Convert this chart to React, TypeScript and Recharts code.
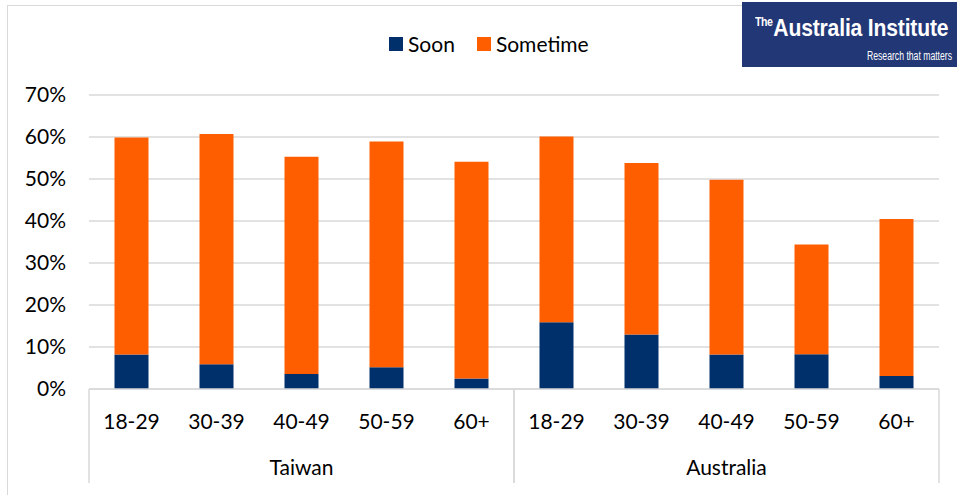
import React from 'react';
import { BarChart, Bar, XAxis, YAxis, CartesianGrid } from 'recharts';

const FONT = 'Lato, "Open Sans", sans-serif';
const NAVY = '#00306C';
const ORANGE = '#FF5E00';
const GRID = '#D9D9D9';

// age bands shown under each country
const ages = ['18-29', '30-39', '40-49', '50-59', '60+'];
const countries = ['Taiwan', 'Australia'];

// share of respondents (%)
const soonTaiwan = [8.2, 5.9, 3.6, 5.2, 2.5];
const sometimeTaiwan = [51.7, 54.8, 51.7, 53.7, 51.6];
const soonAustralia = [15.9, 13.0, 8.2, 8.3, 3.1];
const sometimeAustralia = [44.2, 40.8, 41.6, 26.1, 37.4];

const yTicks = [0, 10, 20, 30, 40, 50, 60, 70];

const seriesNames = ['Soon', 'Sometime'];
const seriesColors = [NAVY, ORANGE];

const soonByCountry = [soonTaiwan, soonAustralia];
const sometimeByCountry = [sometimeTaiwan, sometimeAustralia];

const rows = countries.flatMap((country, c) =>
  ages.map((age, i) => ({
    country,
    age,
    soon: soonByCountry[c][i],
    sometime: sometimeByCountry[c][i],
  }))
);

const AGE_AXIS_H = 50;
const COUNTRY_AXIS_H = 56;
const LABEL_SIZE = 21;

const AgeTick = (props: any) => {
  const { x, y, payload } = props;
  return (
    <text x={x} y={y + 33} dy="0.35em" textAnchor="middle" fontFamily={FONT} fontSize={LABEL_SIZE} fill="#000">
      {payload.value}
    </text>
  );
};

const CountryTick = (props: any) => {
  const { x, y, payload, width } = props;
  const half = payload.offset ? payload.offset : width / countries.length / 2;
  const top = y - AGE_AXIS_H;
  const bottom = y + COUNTRY_AXIS_H - 12;
  return (
    <g>
      <line x1={x - half} x2={x - half} y1={top} y2={bottom} stroke={GRID} strokeWidth={1.5} />
      <line x1={x + half} x2={x + half} y1={top} y2={bottom} stroke={GRID} strokeWidth={1.5} />
      <text x={x} y={y + 29} dy="0.35em" textAnchor="middle" fontFamily={FONT} fontSize={LABEL_SIZE} fill="#000">
        {payload.value}
      </text>
    </g>
  );
};

const Logo = () => (
  <div
    style={{
      position: 'absolute',
      left: 742,
      top: 2,
      width: 215,
      height: 65,
      background: '#223776',
      overflow: 'hidden',
      color: '#fff',
      fontFamily: '"Liberation Sans", Arial, sans-serif',
      whiteSpace: 'nowrap',
    }}
  >
    <div
      style={{
        position: 'absolute',
        left: 13,
        top: 12,
        fontSize: 24,
        fontWeight: 700,
        letterSpacing: -0.2,
        transform: 'scaleX(0.88)',
        transformOrigin: 'left top',
      }}
    >
      <span style={{ fontSize: 12, verticalAlign: 10, marginRight: 1, letterSpacing: -0.5 }}>The</span>
      Australia Institute
    </div>
    <div
      style={{
        position: 'absolute',
        left: 125,
        top: 47,
        fontSize: 12,
        transform: 'scaleX(0.72)',
        transformOrigin: 'left top',
      }}
    >
      Research that matters
    </div>
  </div>
);

const Legend = () => (
  <div
    style={{
      position: 'absolute',
      left: 389,
      top: 31,
      display: 'flex',
      alignItems: 'center',
      fontFamily: FONT,
      fontSize: LABEL_SIZE,
      color: '#000',
    }}
  >
    {seriesNames.map((name, i) => (
      <div key={name} style={{ display: 'flex', alignItems: 'center', marginRight: 22 }}>
        <span style={{ width: 14, height: 14, background: seriesColors[i], marginRight: 5 }} />
        <span>{name}</span>
      </div>
    ))}
  </div>
);

export default function App() {
  return (
    <div style={{ position: 'absolute', left: 0, top: 0, width: 957, height: 495, background: '#fff', overflow: 'hidden' }}>
      <div
        style={{
          position: 'absolute',
          left: 7,
          top: 5,
          width: 1000,
          height: 600,
          borderLeft: `1.5px solid ${GRID}`,
          borderTop: `1.5px solid ${GRID}`,
        }}
      />
      <BarChart
        width={957}
        height={495}
        data={rows}
        barCategoryGap="30%"
        margin={{ top: 95, right: 18, left: 29, bottom: 0 }}
        style={{ position: 'absolute', left: 0, top: 0 }}
      >
        <CartesianGrid horizontal vertical={false} stroke={GRID} strokeWidth={1.5} />
        <XAxis
          dataKey="age"
          height={AGE_AXIS_H}
          tickSize={0}
          tickMargin={0}
          tickLine={false}
          axisLine={{ stroke: GRID, strokeWidth: 1.5 }}
          interval={0}
          tick={<AgeTick />}
        />
        <XAxis
          xAxisId="country"
          dataKey="country"
          allowDuplicatedCategory={false}
          height={COUNTRY_AXIS_H}
          tickSize={0}
          tickMargin={0}
          tickLine={false}
          axisLine={false}
          interval={0}
          tick={<CountryTick />}
        />
        <YAxis
          width={60}
          domain={[0, 70]}
          ticks={yTicks}
          interval={0}
          tickLine={false}
          axisLine={false}
          tickMargin={17}
          tickFormatter={(v: number) => `${v}%`}
          tick={{ fill: '#000', fontFamily: FONT, fontSize: LABEL_SIZE }}
        />
        <Bar dataKey="soon" name={seriesNames[0]} stackId="a" fill={NAVY} isAnimationActive={false} />
        <Bar dataKey="sometime" name={seriesNames[1]} stackId="a" fill={ORANGE} isAnimationActive={false} />
      </BarChart>
      <Legend />
      <Logo />
    </div>
  );
}
